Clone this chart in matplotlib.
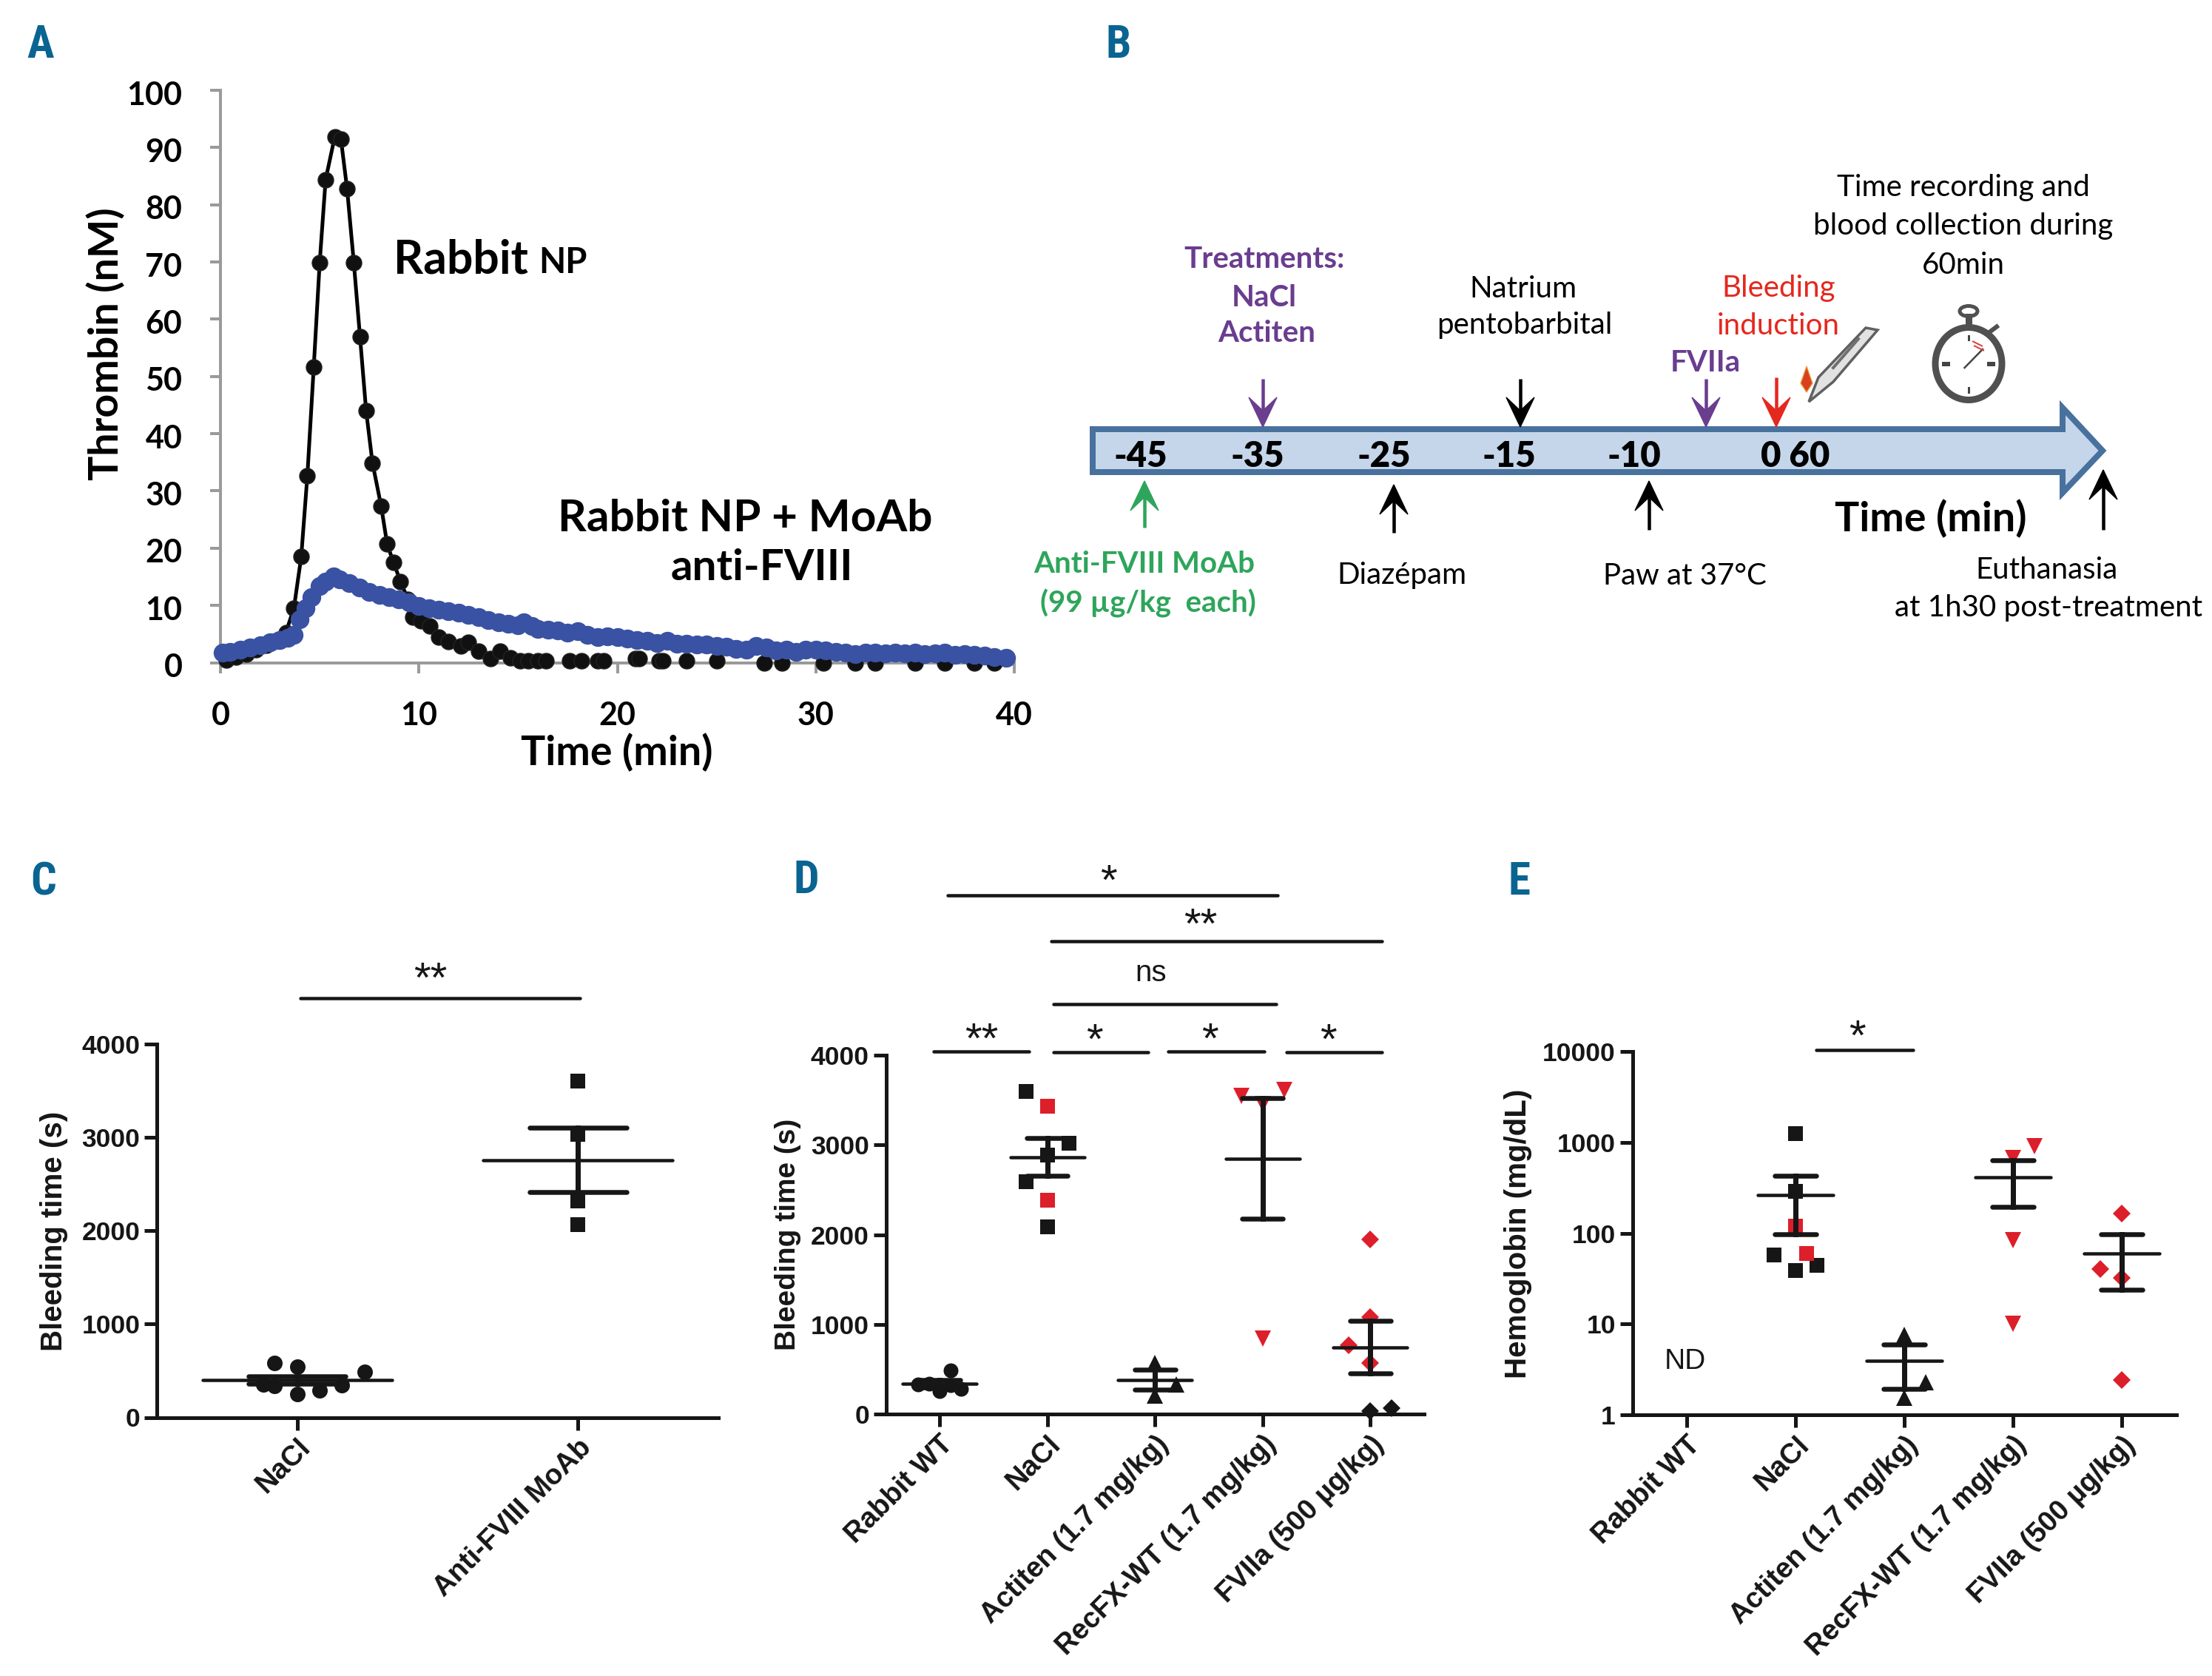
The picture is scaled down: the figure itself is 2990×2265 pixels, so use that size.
import numpy as np
import matplotlib
matplotlib.use('Agg')
import matplotlib.pyplot as plt
from matplotlib.patches import Polygon, Ellipse
from matplotlib.transforms import ScaledTranslation

W, H = 2990, 2265
DPI = 100
PX = 72 / DPI

# ---------- Panel A data ----------
np_x = [0.3,0.8,1.3,1.8,2.3,2.8,3.3,3.7,4.07,4.38,4.7,5.0,5.3,5.76,6.07,6.38,6.72,7.03,7.34,7.66,8.1,8.4,8.72,9.07,9.45,9.7,10.1,10.55,11.0,11.5,12.1,12.5,13.0,13.6,14.1,14.6,15.1,15.5,16.0,16.4,17.6,18.2,19.0,19.3,20.9,21.1,22.1,22.3,23.5,25.0,27.4,28.3,30.4,32.0,33.0,35.0,36.5,38.0,39.0]
np_y = [0.5,1.0,1.5,2.2,3.0,3.8,5.3,9.5,18.5,32.7,51.6,69.9,84.4,91.9,91.5,82.8,69.9,57.0,44.0,34.9,27.3,20.7,17.5,14.2,11.0,8.0,7.3,6.4,4.4,3.7,2.9,3.6,2.0,0.7,2.0,0.9,0.3,0.3,0.3,0.3,0.3,0.3,0.3,0.3,0.7,0.7,0.3,0.3,0.3,0.3,0.0,-0.1,0.0,0.0,0.0,0.0,0.0,0.0,-0.1]
moab_x = [0.1,0.5,1.0,1.5,2.0,2.5,3.0,3.4,3.7,4.0,4.3,4.6,5.0,5.3,5.7,6.0,6.5,7.0,7.5,8.0,8.5,9.0,9.5,10.0,10.5,11.0,11.5,12.0,12.5,13.0,13.5,14.0,14.5,15.0,15.3,15.7,16.0,16.5,17.0,17.5,18.0,18.5,19.0,19.5,20.0,20.5,21.0,21.5,22.0,22.5,23.0,23.5,24.0,24.5,25.0,25.5,26.0,26.5,27.0,27.5,28.0,28.5,29.0,29.5,30.0,30.5,31.0,31.5,32.0,32.5,33.0,33.5,34.0,34.5,35.0,35.5,36.0,36.5,37.0,37.5,38.0,38.5,39.0,39.6]
moab_y = [1.8,1.9,2.2,2.6,3.0,3.5,4.0,4.3,4.8,7.5,9.5,11.5,13.4,14.1,15.0,14.5,13.9,13.1,12.4,11.8,11.5,11.0,10.5,9.9,9.5,9.3,9.0,8.7,8.4,7.9,7.4,7.1,6.8,6.5,7.1,6.4,5.9,5.7,5.6,5.2,5.5,4.8,4.5,4.6,4.4,4.2,3.9,3.8,3.4,3.8,3.3,3.3,3.2,3.2,2.9,2.8,2.4,2.2,2.9,2.7,2.1,2.3,1.9,2.3,2.2,2.1,1.9,1.8,1.5,1.8,1.7,1.6,1.7,1.6,1.8,1.5,1.6,1.7,1.4,1.5,1.4,1.2,1.0,0.9]
a_xticks = [0,10,20,30,40]
a_yticks = [0,10,20,30,40,50,60,70,80,90,100]

# ---------- Panel C data ----------
c_labels = ['NaCl','Anti-FVIII MoAb']
c_x1 = [0.92,1.0,1.24,0.92,0.88,1.16,1.08,1.0]
c_y1 = [584,542,489,335,356,345,292,250]
c_y2 = [3600,3033,2320,2066]
c_mean = [398,2757]
c_low = [360,2411]
c_high = [440,3107]

# ---------- Panel D data ----------
cats = ['Rabbit WT','NaCl','Actiten (1.7 mg/kg)','RecFX-WT (1.7 mg/kg)','FVIIa (500 µg/kg)']
d_wt_off = [0.1,-0.2,-0.1,0.0,0.2,0.1]
d_wt = [486,330,342,255,284,320]
d_nacl_k_off = [-0.2,0.2,0.0,-0.2,0.0]
d_nacl_k = [3600,3022,2889,2588,2090]
d_nacl_r_off = [0.0,0.0]
d_nacl_r = [3427,2385]
d_act_off = [0.0,0.2,0.0]
d_act = [573,330,208]
d_rec_off = [-0.2,0.2,0.0,0.0]
d_rec = [3543,3612,3456,845]
d_f7_r_off = [0.0,0.0,-0.2,0.0]
d_f7_r = [1945,1082,764,573]
d_f7_k_off = [0.0,0.2]
d_f7_k = [35,64]
d_mean = [342,2860,382,2848,741]
d_low = [301,2657,272,2177,452]
d_high = [382,3074,492,3520,1036]

# ---------- Panel E data ----------
e_nacl_k_off = [0.0,0.0,-0.2,0.2,0.0]
e_nacl_k = [1240,290,57.6,44,38.8]
e_nacl_r_off = [0.0,0.1]
e_nacl_r = [120,60]
e_act_off = [0.0,0.2,0.0]
e_act = [7.6,2.3,1.55]
e_rec_off = [0.2,0.0,0.0,0.0]
e_rec = [912,665,83,10.1]
e_f7_off = [0.0,-0.2,0.0,0.0]
e_f7 = [165,40,32,2.4]
e_pos = [2,3,4,5]
e_mean = [265,3.93,414,60]
e_low = [97,1.93,196,24]
e_high = [430,5.9,640,97]

# ---------- Annotation tables ----------
sig_lines = [
    # panel C
    (406,784,1349,'**',582,1314),
    # panel D
    (1281,1727,1210,'*',1498,1182),
    (1421,1868,1272,'**',1623,1241),
    (1424,1725,1357,'ns',1556,1315),
    (1262,1391,1421,'**',1327,1396),
    (1424,1552,1422,'*',1479,1397),
    (1579,1709,1421,'*',1635,1396),
    (1739,1868,1422,'*',1795,1397),
    # panel E
    (2455,2586,1419,'*',2510,1392),
]
axis_numbers = ['-45','-35','-25','-15','-10','0 60']
axis_number_x = [1542,1700,1871,2040,2209,2427]

PURPLE = '#6A3D8F'
RED = '#E5281E'
GREEN = '#2EA55B'
BLUE = '#3A52A3'
INK = '#161616'
MRED = '#DC1F2A'
LET = '#0A6491'

fig = plt.figure(figsize=(W/DPI, H/DPI), dpi=DPI, facecolor='white')
SANS = 'Liberation Sans'
LATO = 'Lato'
NARROW = ['Roboto Condensed','Open Sans Condensed','Liberation Sans Narrow','DejaVu Sans Condensed','Roboto']

def axes_px(x0, x1, ytop, ybot):
    return fig.add_axes([x0/W, 1-ybot/H, (x1-x0)/W, (ybot-ytop)/H])

ov = fig.add_axes([0,0,1,1], zorder=5)
ov.set_xlim(0,W); ov.set_ylim(H,0); ov.axis('off'); ov.patch.set_alpha(0)

def T(x,y,s,size,color='black',weight='normal',family=LATO,ha='center',va='center',rot=0):
    if family == LATO and rot == 0:
        y = y + 3
    ov.text(x,y,s,fontsize=size,color=color,fontweight=weight,family=family,ha=ha,va=va,rotation=rot)

# Letters
for s,x,y in [('A',55,61),('B',1512,61),('C',59,1192),('D',1090,1190),('E',2053,1192)]:
    T(x,y,s,44,LET,'bold',NARROW)

# ---------- Panel A ----------
a = axes_px(298,1371,122,895.5)
a.plot(np_x[:37],np_y[:37],color='black',lw=5*PX,clip_on=False,zorder=3)
a.plot(np_x,np_y,ls='none',marker='o',ms=21*PX,mec='#222222',mfc='#111111',clip_on=False,zorder=3)
a.plot(moab_x,moab_y,color=BLUE,lw=5*PX,marker='o',ms=24*PX,mec=BLUE,mfc=BLUE,clip_on=False,zorder=4)
a.set_xlim(0,40); a.set_ylim(0,100)
a.set_xticks(a_xticks); a.set_yticks(a_yticks)
for s in ['top','right']: a.spines[s].set_visible(False)
for s in ['left','bottom']:
    a.spines[s].set_color('#9a9a9a'); a.spines[s].set_linewidth(4*PX)
a.tick_params(axis='both',color='#9a9a9a',width=4*PX,length=14*PX,labelsize=31)
a.tick_params(axis='y',pad=27)
a.tick_params(axis='x',pad=27)
for l in a.get_xticklabels()+a.get_yticklabels():
    l.set_family(LATO); l.set_fontweight('bold')
for tick in a.yaxis.get_major_ticks():
    tick.label1.set_transform(tick.label1.get_transform()+ScaledTranslation(0,-3/DPI,fig.dpi_scale_trans))
T(143,465,'Thrombin (nM)',40,'black','bold',LATO,rot=90)
T(834,1014,'Time (min)',40,'black','bold')
T(532,349,'Rabbit',45,'black','bold',ha='left')
T(728,352,'NP',34,'black','bold',ha='left')
T(1007,698,'Rabbit NP + MoAb',43.5,'black','bold')
T(1030,765,'anti-FVIII',42,'black','bold')

# ---------- Panel B ----------
ov.add_patch(Polygon([(1477,580),(2788,580),(2788,551),(2842,609),(2788,666),(2788,638),(1477,638)],
                     closed=True,fc='#C5D6EA',ec='#48719E',lw=8*PX,joinstyle='miter'))
for s,x in zip(axis_numbers,axis_number_x):
    T(x,614,s,34,'black','heavy')

def arrow(x,y0,y1,c):
    d = 1 if y1>y0 else -1
    ov.plot([x,x],[y0,y1-d*20],color=c,lw=4.5*PX,solid_capstyle='butt')
    ov.add_patch(Polygon([(x,y1),(x-19,y1-d*40),(x,y1-d*22),(x+19,y1-d*40)],closed=True,fc=c,ec=c,lw=1))

for x,y0,y1,c in [(1707,512,577,PURPLE),(2055,512,577,'black'),(2306,512,577,PURPLE),(2401,510,577,RED),
                  (1547,713,650,GREEN),(1884,720,655,'black'),(2229,716,650,'black'),(2843,716,635,'black')]:
    arrow(x,y0,y1,c)

FS = 29
for x,y,s in [(2654,251,'Time recording and'),(2654,303,'blood collection during'),(2654,356,'60min'),
              (2059,387,'Natrium'),(2061,437,'pentobarbital'),
              (1895,775,'Diazépam'),(2277,775,'Paw at 37°C'),
              (2767,767,'Euthanasia'),(2769,818,'at 1h30 post-treatment')]:
    T(x,y,s,FS)
for x,y,s in [(2404,387,'Bleeding'),(2404,437,'induction')]:
    T(x,y,s,FS,RED)
for x,y,s in [(1709,347,'Treatments:'),(1709,399,'NaCl'),(1712,448,'Actiten'),(2305,487,'FVIIa')]:
    T(x,y,s,FS,PURPLE,'bold')
for x,y,s in [(1547,760,'Anti-FVIII MoAb'),(1552,812,'(99 µg/kg  each)')]:
    T(x,y,s,FS,GREEN,'bold')
T(2610,698,'Time (min)',40,'black','bold')

# stopwatch
cx,cy = 2661,491.5
ov.add_patch(Ellipse((cx,cy),90,98,fc='white',ec='#505050',lw=9*PX))
ov.add_patch(Ellipse((cx,cy-71),24,14,fc='white',ec='#505050',lw=5*PX))
ov.plot([cx,cx],[cy-64,cy-50],color='#505050',lw=9*PX)
ov.plot([cx+30,cx+38],[cy-44,cy-50],color='#505050',lw=6*PX)
ov.plot([cx-5.5,cx+19],[cy+5.5,cy-19.5],color='#444444',lw=2.5*PX)
for dx,dy,lw in [(0,-38,3),(0,38,3),(-33,0,6),(33,0,6)]:
    ov.plot([cx+dx*0.85,cx+dx],[cy+dy*0.85,cy+dy],color='#444444',lw=lw*PX)
ov.plot([cx+6,cx+18],[cy-30,cy-24],color='#D84040',lw=2*PX)
ov.plot([cx+8,cx+20],[cy-24,cy-18],color='#D84040',lw=2*PX)

# scalpel and flame
ov.add_patch(Polygon([(2445,543),(2458,510),(2522,443),(2538,446),(2478,516)],closed=True,fc='#E2E2E2',ec='#606060',lw=3.5*PX))
ov.plot([2478,2512],[497,458],color='#707070',lw=4*PX)
ov.add_patch(Polygon([(2442,495),(2450,518),(2442,530),(2434,518)],closed=True,fc='#D9401E',ec='#E8A040',lw=1))

# ---------- Shared dot plot styling ----------
def style(ax, labels, yticks, ylabels, ymin, ymax, xmax):
    ax.set_xlim(0.5,xmax); ax.set_ylim(ymin,ymax)
    for s in ['top','right']: ax.spines[s].set_visible(False)
    for s in ['left','bottom']:
        ax.spines[s].set_color(INK); ax.spines[s].set_linewidth(5*PX)
    ax.set_yticks(yticks); ax.set_yticklabels(ylabels)
    ax.set_xticks(range(1,len(labels)+1))
    ax.set_xticklabels(labels,rotation=45,ha='right',va='top',rotation_mode='anchor')
    ax.minorticks_off()
    ax.tick_params(axis='both',color=INK,width=5*PX,length=17*PX,labelsize=25.5,labelcolor=INK,pad=4)
    ax.tick_params(axis='x',labelsize=27.5)
    for l in ax.get_xticklabels()+ax.get_yticklabels():
        l.set_family(SANS); l.set_fontweight('bold')

def pts(ax,x,y,m,ms,c=INK):
    ax.plot(x,y,ls='none',marker=m,ms=ms*PX,mfc=c,mec=c,mew=0,clip_on=False,zorder=3)

def errs(ax,xs,mean,low,high,mh=0.345,ch=0.19):
    for x,m,l,h in zip(xs,mean,low,high):
        ax.plot([x-mh,x+mh],[m,m],color=INK,lw=4.5*PX,zorder=4,solid_capstyle='round')
        ax.plot([x,x],[l,h],color=INK,lw=7*PX,zorder=4)
        ax.plot([x-ch,x+ch],[l,l],color=INK,lw=6.5*PX,zorder=4,solid_capstyle='round')
        ax.plot([x-ch,x+ch],[h,h],color=INK,lw=6.5*PX,zorder=4,solid_capstyle='round')

lin_ticks = [0,1000,2000,3000,4000]
lin_lab = ['0','1000','2000','3000','4000']

# ---------- Panel C ----------
c = axes_px(212,971,1411,1915.5)
style(c,c_labels,lin_ticks,lin_lab,0,4000,2.5)
pts(c,c_x1,c_y1,'o',21)
pts(c,[2]*len(c_y2),c_y2,'s',20)
errs(c,[1,2],c_mean,c_low,c_high,0.337,0.173)
T(73,1664,'Bleeding time (s)',29,INK,'bold',SANS,rot=90)

# ---------- Panel D ----------
d = axes_px(1197.5,1925,1426,1911)
style(d,cats,lin_ticks,lin_lab,0,4000,5.5)
pts(d,[1+o for o in d_wt_off],d_wt,'o',20)
pts(d,[2+o for o in d_nacl_k_off],d_nacl_k,'s',20)
pts(d,[2+o for o in d_nacl_r_off],d_nacl_r,'s',20,MRED)
pts(d,[3+o for o in d_act_off],d_act,'^',22)
pts(d,[4+o for o in d_rec_off],d_rec,'v',22,MRED)
pts(d,[5+o for o in d_f7_r_off],d_f7_r,'D',17,MRED)
pts(d,[5+o for o in d_f7_k_off],d_f7_k,'D',17)
errs(d,[1,2,3,4,5],d_mean,d_low,d_high)
T(1065,1668,'Bleeding time (s)',28,INK,'bold',SANS,rot=90)

# ---------- Panel E ----------
e = axes_px(2206.5,2941.5,1421,1912)
e.set_yscale('log')
style(e,cats,[1,10,100,1000,10000],['1','10','100','1000','10000'],1,10000,5.5)
pts(e,[2+o for o in e_nacl_k_off],e_nacl_k,'s',20)
pts(e,[2+o for o in e_nacl_r_off],e_nacl_r,'s',20,MRED)
pts(e,[3+o for o in e_act_off],e_act,'^',22)
pts(e,[4+o for o in e_rec_off],e_rec,'v',22,MRED)
pts(e,[5+o for o in e_f7_off],e_f7,'D',17,MRED)
errs(e,e_pos,e_mean,e_low,e_high)
T(2052,1667,'Hemoglobin (mg/dL)',29,INK,'bold',SANS,rot=90)
T(2278,1840,'ND',28,INK,'normal',SANS)

# ---------- Significance brackets ----------
for x0,x1,y,s,tx,ty in sig_lines:
    ov.plot([x0,x1],[y,y],color=INK,lw=4.5*PX,solid_capstyle='round')
    if s == 'ns':
        T(tx,ty,s,29,INK,'normal',SANS)
    else:
        T(tx,ty+12,s,42,INK,'normal',SANS)

fig.savefig('out.png',dpi=DPI,facecolor='white')
